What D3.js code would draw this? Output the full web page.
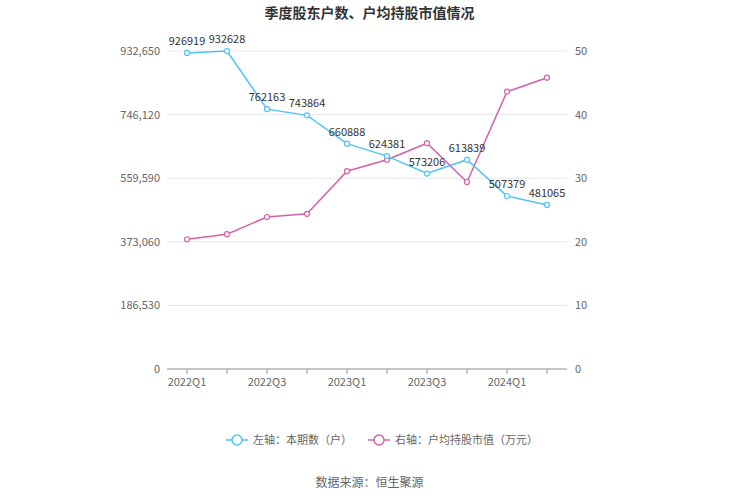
<!DOCTYPE html>
<html><head><meta charset="utf-8">
<script src="https://cdn.jsdelivr.net/npm/d3@7"></script>
<style>body{margin:0;background:#fff;font-family:"Noto Sans CJK SC","Noto Sans",sans-serif}</style>
</head><body><div id="wrapper"></div>
<script>
const quarters = ["2022Q1","2022Q2","2022Q3","2022Q4","2023Q1","2023Q2","2023Q3","2023Q4","2024Q1","2024Q2"]
const holders = [926919,932628,762163,743864,660888,624381,573206,613839,507379,481065]
const avgValue = [20.4,21.2,23.9,24.4,31.1,32.9,35.5,29.4,43.6,45.8]
const leftTicks = [0,186530,373060,559590,746120,932650]
const rightTicks = [0,10,20,30,40,50]

const width = 739, height = 500
const svg = d3.select("#wrapper").append("svg").attr("width", width).attr("height", height)
const blue = "#4fc3f7", pink = "#d462a8"

const x = d3.scaleBand().domain(quarters).range([167, 567])
const cx = d => x(d) + x.bandwidth() / 2
const yL = d3.scaleLinear().domain([0, 932650]).range([369, 51])
const yR = d3.scaleLinear().domain([0, 50]).range([369, 51])

svg.append("text").attr("x", width / 2).attr("y", 18).attr("text-anchor", "middle")
  .attr("font-size", 14).attr("font-weight", "bold").attr("fill", "#333").text("季度股东户数、户均持股市值情况")

// grid
svg.append("g").selectAll("line").data(leftTicks).join("line")
  .attr("x1", 167).attr("x2", 567).attr("y1", d => yL(d)).attr("y2", d => yL(d))
  .attr("stroke", "#e8e8e8")

svg.append("g").selectAll("text").data(leftTicks).join("text")
  .attr("x", 160).attr("y", d => yL(d) + 4).attr("text-anchor", "end")
  .attr("font-size", 11).attr("fill", "#666").text(d => d3.format(",")(d))
svg.append("g").selectAll("text").data(rightTicks).join("text")
  .attr("x", 575).attr("y", d => yR(d) + 4)
  .attr("font-size", 11).attr("fill", "#666").text(d => d)

svg.append("line").attr("x1", 167).attr("x2", 567).attr("y1", 369).attr("y2", 369).attr("stroke", "#999")
svg.append("g").selectAll("line").data(quarters).join("line")
  .attr("x1", d => cx(d)).attr("x2", d => cx(d)).attr("y1", 369).attr("y2", 374).attr("stroke", "#999")
svg.append("g").selectAll("text").data(quarters.filter((d, i) => i % 2 === 0)).join("text")
  .attr("x", d => cx(d)).attr("y", 386).attr("text-anchor", "middle")
  .attr("font-size", 11).attr("fill", "#666").text(d => d)

function series(vals, y, color) {
  svg.append("path").datum(vals)
    .attr("d", d3.line().x((d, i) => cx(quarters[i])).y(d => y(d)))
    .attr("fill", "none").attr("stroke", color).attr("stroke-width", 1.5)
  svg.append("g").selectAll("circle").data(vals).join("circle")
    .attr("cx", (d, i) => cx(quarters[i])).attr("cy", d => y(d)).attr("r", 2.5)
    .attr("fill", "#fff").attr("stroke", color).attr("stroke-width", 1.2)
}
series(avgValue, yR, pink)
series(holders, yL, blue)

svg.append("g").selectAll("text").data(holders).join("text")
  .attr("x", (d, i) => cx(quarters[i])).attr("y", d => yL(d) - 8).attr("text-anchor", "middle")
  .attr("font-size", 11).attr("fill", "#333").text(d => d)

// legend
const lg = svg.append("g")
const items = [{t: "左轴：本期数（户）", c: blue, x: 226}, {t: "右轴：户均持股市值（万元）", c: pink, x: 368}]
items.forEach(it => {
  lg.append("line").attr("x1", it.x).attr("x2", it.x + 22).attr("y1", 440).attr("y2", 440).attr("stroke", it.c).attr("stroke-width", 1.5)
  lg.append("circle").attr("cx", it.x + 11).attr("cy", 440).attr("r", 5).attr("fill", "#fff").attr("stroke", it.c).attr("stroke-width", 1.5)
  lg.append("text").attr("x", it.x + 27).attr("y", 444).attr("font-size", 11).attr("fill", "#666").text(it.t)
})
svg.append("text").attr("x", width / 2).attr("y", 487).attr("text-anchor", "middle")
  .attr("font-size", 12).attr("fill", "#666").text("数据来源：恒生聚源")
</script></body></html>
